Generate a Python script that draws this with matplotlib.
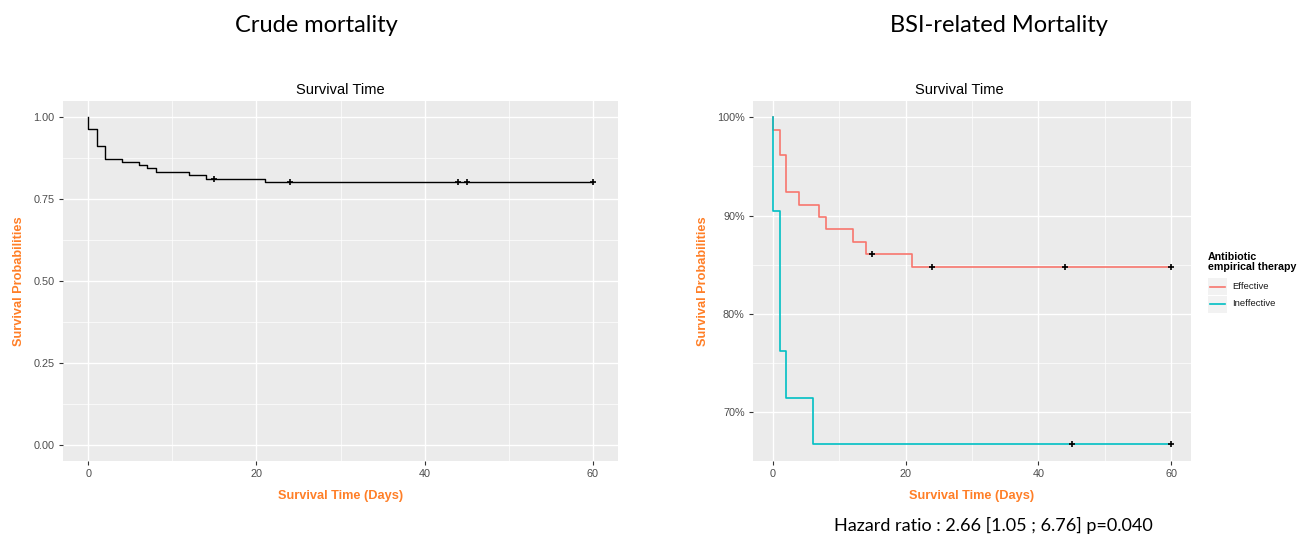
import matplotlib as mpl
mpl.use('Agg')
import matplotlib.pyplot as plt
from matplotlib.lines import Line2D
from matplotlib.patches import Rectangle
from matplotlib.ticker import FuncFormatter, MultipleLocator

# #############################################################################
# data (Kaplan-Meier steps, censor marks)
crude_time = [0, 0, 1, 2, 4, 6, 7, 8, 12, 14, 21, 60]
crude_surv = [1.0, 0.964, 0.913, 0.874, 0.865, 0.854, 0.844, 0.832, 0.824, 0.813, 0.804, 0.804]
crude_cens_time = [15, 24, 44, 45, 60]
crude_cens_surv = [0.813, 0.804, 0.804, 0.804, 0.804]

groups = ['Effective', 'Ineffective']
eff_time = [0, 0, 1, 2, 4, 7, 8, 12, 14, 21, 60]
eff_surv = [100, 98.7, 96.2, 92.4, 91.1, 89.9, 88.6, 87.3, 86.1, 84.8, 84.8]
eff_cens_time = [15, 24, 44, 60]
eff_cens_surv = [86.1, 84.8, 84.8, 84.8]
ineff_time = [0, 0, 1, 2, 6, 60]
ineff_surv = [100, 90.5, 76.2, 71.4, 66.7, 66.7]
ineff_cens_time = [45, 60]
ineff_cens_surv = [66.7, 66.7]

x_ticks = [0, 20, 40, 60]
hr_text = 'Hazard ratio : 2.66 [1.05 ; 6.76] p=0.040'

# #############################################################################
ORANGE = '#FF7F27'
TICKC = '#4D4D4D'
PANEL = '#EBEBEB'
col_eff = '#F8766D'
col_ineff = '#00BFC4'

plt.rcParams['font.family'] = ['Liberation Sans', 'DejaVu Sans']

fig = plt.figure(figsize=(13.06, 5.35), dpi=100)
W, H = 1306., 535.


def fax(x0, y0, x1, y1):
    return fig.add_axes([x0 / W, 1 - y1 / H, (x1 - x0) / W, (y1 - y0) / H])


def gg_style(ax):
    ax.set_facecolor(PANEL)
    for s in ax.spines.values():
        s.set_visible(False)
    ax.grid(which='major', color='white', lw=1.0)
    ax.grid(which='minor', color='white', lw=0.5)
    ax.set_axisbelow(True)
    ax.tick_params(which='major', length=3, width=0.8, color='#333333',
                   labelcolor=TICKC, labelsize=7.8, pad=3)
    ax.tick_params(which='minor', length=0)
    ax.set_xlim(-3, 63)
    ax.set_xticks(x_ticks)
    ax.xaxis.set_minor_locator(MultipleLocator(10))
    ax.set_title('Survival Time', fontsize=10.5, pad=5)
    ax.set_xlabel('Survival Time (Days)', color=ORANGE, fontweight='bold',
                  fontsize=9.2, labelpad=8)
    ax.set_ylabel('Survival Probabilities', color=ORANGE, fontweight='bold',
                  fontsize=9.2)


# left panel: crude mortality
ax1 = fax(63, 101, 618, 461)
gg_style(ax1)
ax1.step(crude_time, crude_surv, where='post', color='black', lw=1.0)
ax1.plot(crude_cens_time, crude_cens_surv, '+', color='black', ms=5, mew=1.2)
ax1.set_ylim(-0.05, 1.05)
ax1.set_yticks([0, 0.25, 0.5, 0.75, 1.0])
ax1.yaxis.set_minor_locator(MultipleLocator(0.125))
ax1.yaxis.set_major_formatter(FuncFormatter(lambda v, p: '%.2f' % v))
ax1.yaxis.set_label_coords(-0.083 + 8 / 555, 0.5)

# right panel: BSI-related mortality
ax2 = fax(753, 101, 1191, 461)
gg_style(ax2)
ax2.step(eff_time, eff_surv, where='post', color=col_eff, lw=1.2)
ax2.step(ineff_time, ineff_surv, where='post', color=col_ineff, lw=1.2)
ax2.plot(eff_cens_time, eff_cens_surv, '+', color='black', ms=5, mew=1.2)
ax2.plot(ineff_cens_time, ineff_cens_surv, '+', color='black', ms=5, mew=1.2)
ax2.set_ylim(65, 101.67)
ax2.set_yticks([70, 80, 90, 100])
ax2.yaxis.set_minor_locator(MultipleLocator(5))
ax2.yaxis.set_major_formatter(FuncFormatter(lambda v, p: '%d%%' % v))
ax2.yaxis.set_label_coords(-0.11 + 4 / 438, 0.5)
ax2.title.set_position((0.47, 1.0))

# legend drawn by hand (ggplot style grey keys)
fig.text(1208 / W, 1 - 262 / H, 'Antibiotic\nempirical therapy', fontsize=7.7,
         fontweight='bold', va='center', ha='left', linespacing=1.1)
for i, (g, c) in enumerate(zip(groups, [col_eff, col_ineff])):
    yc = 286.5 + i * 17.5
    fig.add_artist(Rectangle((1208 / W, 1 - (yc + 8.5) / H), 19 / W, 17 / H,
                             transform=fig.transFigure, color='#F2F2F2', lw=0))
    fig.add_artist(Line2D([1210 / W, 1225 / W], [1 - yc / H, 1 - yc / H],
                          transform=fig.transFigure, color=c, lw=1.2))
    fig.text(1232 / W, 1 - yc / H, g, fontsize=6.8, va='center', ha='left',
             color='#1A1A1A')

# big headings and hazard ratio
fig.text(316 / W, 1 - 26 / H, 'Crude mortality', fontsize=17, family='Lato',
         ha='center', va='center')
fig.text(999 / W, 1 - 26 / H, 'BSI-related Mortality', fontsize=17, family='Lato',
         ha='center', va='center')
fig.text(993 / W, 1 - 525 / H, hr_text, fontsize=13, family='Lato',
         ha='center', va='center')

plt.savefig('out.png', dpi=100)
